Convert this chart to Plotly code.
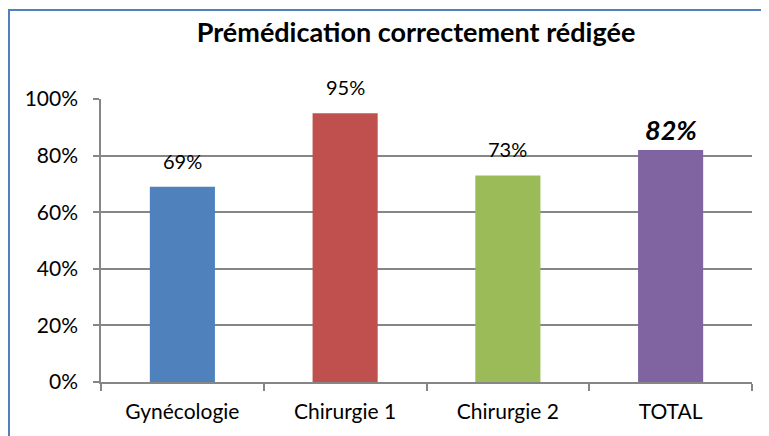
import plotly.graph_objects as go

categories = ["Gynécologie", "Chirurgie 1", "Chirurgie 2", "TOTAL"]
values = [0.69, 0.95, 0.73, 0.82]
colors = ["#4F81BD", "#C0504D", "#9BBB59", "#8064A2"]
labels = ["69%", "95%", "73%", "82%"]
y_ticks = [0, 0.2, 0.4, 0.6, 0.8, 1.0]
y_ticklabels = ["0%", "20%", "40%", "60%", "80%", "100%"]

FONT = "Lato, Calibri, Carlito, sans-serif"

# the page body has an 8px margin: the figure is drawn 8px lower and further right
W, H = 761, 428
L, T = 93, 91
PW, PH = 651, 283

fig = go.Figure()
fig.add_trace(go.Bar(x=categories, y=values, marker=dict(color=colors, line=dict(width=0)),
                     width=0.4, hoverinfo="skip"))

for c, v, t in zip(categories, values, labels):
    total = (c == "TOTAL")
    fig.add_annotation(x=c, y=v, text=(f"<b><i>{t}</i></b>" if total else t),
                       showarrow=False, yanchor="middle", xanchor="center",
                       yshift=20 if total else 26,
                       font=dict(family=FONT, size=27 if total else 20, color="#000000"))

# chart border (only left and top edges are inside the picture)
fig.add_shape(type="rect", xref="paper", yref="paper",
              x0=(1 - L) / PW, x1=1.2, y0=-0.5, y1=1 + (T - 2) / PH,
              line=dict(color="#4F81BD", width=2), fillcolor="rgba(0,0,0,0)", layer="below")

fig.update_layout(
    width=W, height=H,
    margin=dict(l=L, r=W - L - PW, t=T, b=H - T - PH),
    paper_bgcolor="white", plot_bgcolor="white",
    showlegend=False,
    title=dict(text="<b>Prémédication correctement rédigée</b>", x=408 / W, xanchor="center",
               y=1 - 25 / H, yanchor="middle",
               font=dict(family=FONT, size=27, color="#000000")),
    font=dict(family=FONT, size=20, color="#000000"),
    yaxis=dict(range=[0, 1], tickvals=y_ticks, ticktext=y_ticklabels,
               showgrid=True, gridcolor="#868686", gridwidth=1.5,
               showline=True, linecolor="#868686", linewidth=1.5,
               ticks="outside", ticklen=6, tickcolor="#868686", tickwidth=1.5,
               zeroline=False, tickfont=dict(family=FONT, size=21), ticklabelstandoff=11),
    xaxis=dict(showline=True, linecolor="#868686", linewidth=1.5,
               ticks="outside", tickson="boundaries", ticklen=7, tickcolor="#868686", tickwidth=1.5,
               showgrid=False, tickfont=dict(family=FONT, size=21), ticklabelstandoff=10),
)

fig.write_html("out.html")
